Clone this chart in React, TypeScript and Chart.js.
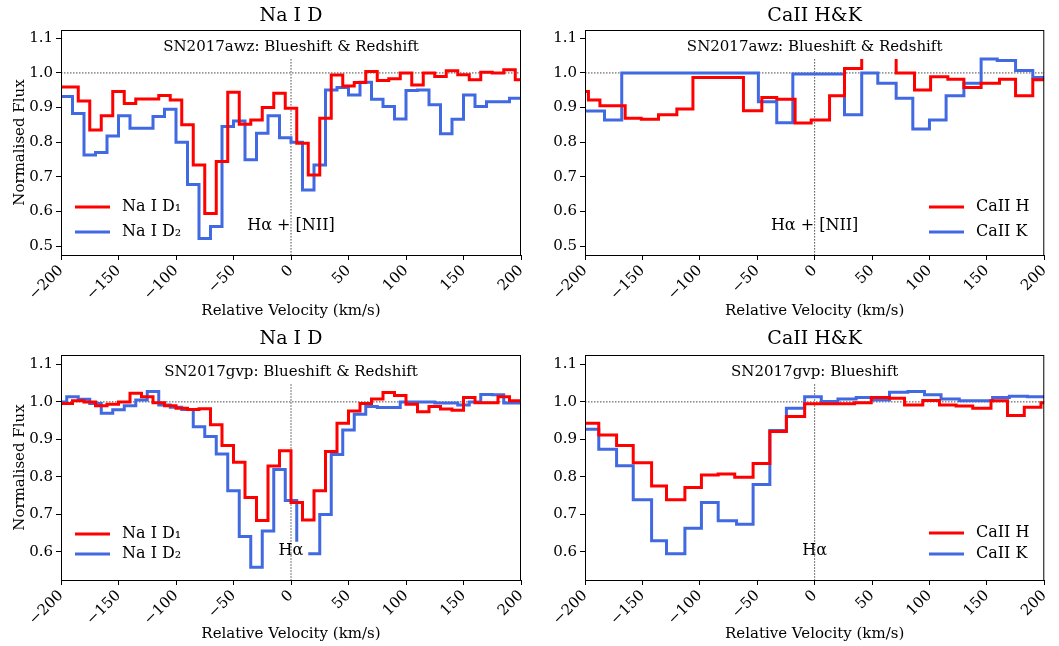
import React, { useEffect, useRef } from "react";
import { Chart, registerables } from "chart.js";
Chart.register(...registerables);

// ---------- data ----------
const xTicks = [-200, -150, -100, -50, 0, 50, 100, 150, 200];
const yTicksTop = [0.5, 0.6, 0.7, 0.8, 0.9, 1.0, 1.1];
const yTicksBottom = [0.6, 0.7, 0.8, 0.9, 1.0, 1.1];

// bin start velocities (km/s), last entry = end of last bin
const gridEven = [-205, -195, -185, -175, -165, -155, -145, -135, -125, -115, -105, -95, -85, -75, -65, -55, -45, -35, -25, -15, -5, 5, 15, 25, 35, 45, 55, 65, 75, 85, 95, 105, 115, 125, 135, 145, 155, 165, 175, 185, 195, 205];
const gridOdd = [-200, -190, -180, -170, -160, -150, -140, -130, -120, -110, -100, -90, -80, -70, -60, -50, -40, -30, -20, -10, 0, 10, 20, 30, 40, 50, 60, 70, 80, 90, 100, 110, 120, 130, 140, 150, 160, 170, 180, 190, 200];

// SN2017awz Na I D
const awzNaD1 = [0.959, 0.959, 0.919, 0.835, 0.876, 0.946, 0.912, 0.925, 0.925, 0.935, 0.922, 0.85, 0.734, 0.594, 0.744, 0.944, 0.852, 0.864, 0.9, 0.941, 0.898, 0.797, 0.705, 0.869, 0.994, 0.962, 0.972, 1.004, 0.978, 0.983, 1.0, 0.965, 1.0, 0.99, 1.006, 0.995, 0.98, 1.002, 1.0, 1.009, 0.98];
const awzNaD2 = [0.932, 0.883, 0.763, 0.77, 0.818, 0.876, 0.84, 0.84, 0.874, 0.895, 0.8, 0.678, 0.522, 0.556, 0.845, 0.861, 0.749, 0.826, 0.876, 0.813, 0.8, 0.662, 0.734, 0.951, 0.958, 0.936, 0.973, 0.924, 0.903, 0.867, 0.949, 0.951, 0.908, 0.824, 0.866, 0.936, 0.903, 0.917, 0.917, 0.927];

// SN2017awz CaII
const awzCaHEdges = [-200, -197, -187, -165, -151, -136, -120, -106, -62, -46, -33, -17, -3, 13, 26, 41, 41, 71, 71, 87, 101, 116, 130, 145, 161, 175, 190, 200];
const awzCaH = [0.946, 0.922, 0.905, 0.869, 0.866, 0.879, 0.896, 0.987, 0.891, 0.929, 0.924, 0.855, 0.864, 0.934, 1.013, 1.04, null, 1.04, 1.0, 0.951, 0.989, 0.982, 0.958, 0.97, 0.982, 0.934, 0.98];
const awzCaKEdges = [-200, -183, -168, -49, -33, -19, 26, 41, 55, 71, 85.5, 100, 114.5, 130, 145, 159, 175, 190, 200];
const awzCaK = [0.89, 0.864, 1.0, 0.917, 0.856, 0.997, 0.879, 1.0, 0.97, 0.927, 0.838, 0.864, 0.934, 0.97, 1.04, 1.036, 1.007, 0.987];

// SN2017gvp Na I D
const gvpNaD1 = [0.996, 1.003, 1.0, 0.99, 0.994, 1.0, 1.023, 1.014, 0.998, 0.99, 0.983, 0.98, 0.982, 0.939, 0.884, 0.839, 0.745, 0.684, 0.829, 0.87, 0.732, 0.685, 0.763, 0.868, 0.943, 0.976, 0.996, 1.008, 1.025, 1.017, 0.994, 0.974, 0.988, 0.981, 0.978, 1.012, 0.998, 0.998, 1.014, 1.003];
const gvpNaD2Edges = [-205, -195, -185, -175, -165, -155, -145, -135, -125, -115, -105, -95, -85, -75, -65, -55, -45, -35, -25, -15, -5, 5, 5, 15, 25, 35, 45, 55, 65, 75, 85, 95, 105, 115, 125, 135, 145, 155, 165, 175, 185, 195, 205];
const gvpNaD2 = [1.0, 1.014, 1.007, 0.996, 0.97, 0.979, 0.99, 1.005, 1.028, 0.992, 0.986, 0.98, 0.934, 0.908, 0.861, 0.763, 0.641, 0.559, 0.656, 0.82, 0.737, 0.627, null, 0.595, 0.7, 0.86, 0.925, 0.967, 0.988, 0.985, 0.985, 1.0, 1.0, 1.0, 0.997, 0.997, 0.992, 1.0, 1.02, 1.019, 0.997, 0.997];

// SN2017gvp CaII
const gvpCaHEdges = [-200, -188, -172.5, -158, -142, -129, -113, -98.6, -84, -69.6, -53.6, -39, -24.6, -8.7, 5.8, 20.3, 34.8, 49.3, 65.2, 78.3, 94.2, 108.7, 123.2, 137.7, 153.6, 168, 182.6, 197.1, 200];
const gvpCaH = [0.943, 0.912, 0.884, 0.838, 0.776, 0.739, 0.772, 0.805, 0.808, 0.799, 0.836, 0.921, 0.961, 0.995, 0.995, 0.995, 0.998, 1.012, 1.01, 0.992, 1.004, 0.992, 0.989, 0.983, 1.003, 0.964, 0.986, 0.998];
const gvpCaKEdges = [-200, -188, -172.5, -158, -142, -129, -113, -98.6, -84, -68, -53.6, -39, -24.6, -8.7, 5.8, 20.3, 36.2, 50.7, 65.2, 81.2, 95.7, 110.1, 126, 140.6, 155, 169.6, 185.5, 200];
const gvpCaK = [0.927, 0.874, 0.83, 0.739, 0.63, 0.595, 0.663, 0.732, 0.683, 0.674, 0.78, 0.924, 0.983, 1.014, 1.001, 1.008, 1.012, 1.005, 1.026, 1.028, 1.019, 1.008, 1.003, 1.003, 1.012, 1.015, 1.014];

const RED = "#ff0000";
const BLUE = "#4169e1";

function steps(edges: number[], vals: (number | null)[]) {
  const pts: { x: number; y: number | null }[] = [];
  for (let i = 0; i < vals.length; i++) pts.push({ x: edges[i], y: vals[i] });
  pts.push({ x: edges[edges.length - 1], y: vals[vals.length - 1] });
  return pts;
}

type Panel = {
  left: number; top: number; w: number; h: number;
  plotL: number; plotT: number; plotR: number; plotB: number;
  yMin: number; yMax: number; yTicks: number[];
  title: string; subtitle: string; note: string; noteY: number;
  labels: string[]; legendX: number; legendY: number[];
  series: { data: { x: number; y: number | null }[]; color: string }[];
  yLabel: boolean; vTop: number;
};

const panels: Panel[] = [
  {
    left: 0, top: 0, w: 540, h: 323, plotL: 61, plotT: 30, plotR: 521, plotB: 255,
    yMin: 0.474, yMax: 1.124, yTicks: yTicksTop, title: "Na I D",
    subtitle: "SN2017awz: Blueshift & Redshift", note: "Hα + [NII]", noteY: 226,
    labels: ["Na I D₁", "Na I D₂"], legendX: 75, legendY: [207, 232],
    series: [{ data: steps(gridEven, awzNaD1), color: RED }, { data: steps(gridOdd, awzNaD2), color: BLUE }],
    yLabel: true, vTop: 1.04,
  },
  {
    left: 530, top: 0, w: 529, h: 323, plotL: 55, plotT: 30, plotR: 515, plotB: 255,
    yMin: 0.474, yMax: 1.124, yTicks: yTicksTop, title: "CaII H&K",
    subtitle: "SN2017awz: Blueshift & Redshift", note: "Hα + [NII]", noteY: 226,
    labels: ["CaII H", "CaII K"], legendX: 399, legendY: [207, 232],
    series: [{ data: steps(awzCaHEdges, awzCaH), color: RED }, { data: steps(awzCaKEdges, awzCaK), color: BLUE }],
    yLabel: false, vTop: 1.04,
  },
  {
    left: 0, top: 323, w: 540, h: 323, plotL: 61, plotT: 32, plotR: 521, plotB: 257,
    yMin: 0.525, yMax: 1.125, yTicks: yTicksBottom, title: "Na I D",
    subtitle: "SN2017gvp: Blueshift & Redshift", note: "Hα", noteY: 228,
    labels: ["Na I D₁", "Na I D₂"], legendX: 75, legendY: [211, 231],
    series: [{ data: steps(gridOdd, gvpNaD1), color: RED }, { data: steps(gvpNaD2Edges, gvpNaD2), color: BLUE }],
    yLabel: true, vTop: 1.047,
  },
  {
    left: 530, top: 323, w: 529, h: 323, plotL: 55, plotT: 32, plotR: 515, plotB: 257,
    yMin: 0.525, yMax: 1.125, yTicks: yTicksBottom, title: "CaII H&K",
    subtitle: "SN2017gvp: Blueshift", note: "Hα", noteY: 228,
    labels: ["CaII H", "CaII K"], legendX: 399, legendY: [210, 231],
    series: [{ data: steps(gvpCaHEdges, gvpCaH), color: RED }, { data: steps(gvpCaKEdges, gvpCaK), color: BLUE }],
    yLabel: false, vTop: 1.047,
  },
];

const SERIF = "'DejaVu Serif', serif";

function PanelChart({ p }: { p: Panel }) {
  const ref = useRef<HTMLCanvasElement>(null);
  useEffect(() => {
    const deco = {
      id: "deco",
      beforeDatasetsDraw(chart: any) {
        const { ctx, chartArea: a, scales } = chart;
        const x0 = scales.x.getPixelForValue(0);
        const y1 = scales.y.getPixelForValue(1.0);
        const yv = scales.y.getPixelForValue(p.vTop);
        ctx.save();
        ctx.strokeStyle = "#333";
        ctx.lineWidth = 0.9;
        ctx.setLineDash([1.5, 1.5]);
        ctx.beginPath();
        ctx.moveTo(a.left, y1); ctx.lineTo(a.right, y1);
        ctx.moveTo(x0, yv); ctx.lineTo(x0, a.bottom);
        ctx.stroke();
        ctx.restore();
      },
      afterDatasetsDraw(chart: any) {
        const { ctx, chartArea: a } = chart;
        ctx.save();
        ctx.strokeStyle = "#000";
        ctx.lineWidth = 1;
        ctx.strokeRect(a.left + 0.5, a.top + 0.5, a.right - a.left - 1, a.bottom - a.top);
        const cx = (a.left + a.right) / 2;
        ctx.fillStyle = "#000";
        ctx.textAlign = "center";
        ctx.textBaseline = "middle";
        ctx.font = `19px ${SERIF}`;
        ctx.fillText(p.title, cx, 16);
        ctx.font = `15px ${SERIF}`;
        ctx.fillText(p.subtitle, cx, a.top + 17);
        ctx.font = `16px ${SERIF}`;
        ctx.fillText(p.note, chart.scales.x.getPixelForValue(0), p.noteY);
        ctx.textAlign = "left";
        p.labels.forEach((lab, i) => {
          const y = p.legendY[i];
          ctx.strokeStyle = p.series[i].color;
          ctx.lineWidth = 3;
          ctx.beginPath();
          ctx.moveTo(p.legendX, y); ctx.lineTo(p.legendX + 35, y);
          ctx.stroke();
          ctx.fillText(lab, p.legendX + 47, y);
        });
        // y-axis title
        if (p.yLabel) {
          ctx.save();
          ctx.translate(20, (a.top + a.bottom) / 2);
          ctx.rotate(-Math.PI / 2);
          ctx.textAlign = "center";
          ctx.font = `15px ${SERIF}`;
          ctx.fillText("Normalised Flux", 0, 0);
          ctx.restore();
        }
        ctx.restore();
      },
    };
    const chart = new Chart(ref.current!, {
      type: "line",
      data: {
        datasets: p.series.map((s) => ({
          data: s.data as any,
          borderColor: s.color,
          borderWidth: 3,
          pointRadius: 0,
          stepped: true,
          spanGaps: false,
          fill: false,
        })),
      },
      options: {
        animation: false,
        responsive: false,
        events: [],
        layout: { padding: { top: p.plotT, right: p.w - p.plotR, left: 0, bottom: 3 } },
        plugins: { legend: { display: false }, tooltip: { enabled: false } },
        scales: {
          x: {
            type: "linear", min: -200, max: 200,
            afterBuildTicks: (s: any) => { s.ticks = xTicks.map((v) => ({ value: v })); },
            afterFit: (s: any) => { s.height = p.h - p.plotB - 3; },
            ticks: {
              autoSkip: false, minRotation: 45, maxRotation: 45, color: "#000",
              font: { family: SERIF, size: 15 }, padding: 2,
              callback: (v: any) => String(v).replace("-", "−"),
            },
            grid: { drawOnChartArea: false, drawTicks: true, tickLength: 5, color: "#000" },
            border: { display: true, color: "#000" },
            title: { display: true, text: "Relative Velocity (km/s)", color: "#000", font: { family: SERIF, size: 15 }, padding: { top: 0, bottom: 0 } },
          },
          y: {
            type: "linear", min: p.yMin, max: p.yMax,
            afterBuildTicks: (s: any) => { s.ticks = p.yTicks.map((v) => ({ value: v })); },
            afterFit: (s: any) => { s.width = p.plotL; },
            ticks: { color: "#000", font: { family: SERIF, size: 15 }, padding: 3, callback: (v: any) => Number(v).toFixed(1) },
            grid: { drawOnChartArea: false, drawTicks: true, tickLength: 5, color: "#000" },
            border: { display: true, color: "#000" },
            title: { display: false },
          },
        },
      },
      plugins: [deco],
    });
    return () => chart.destroy();
  }, [p]);
  return (
    <canvas
      ref={ref}
      width={p.w}
      height={p.h}
      style={{ position: "absolute", left: p.left, top: p.top, width: p.w, height: p.h }}
    />
  );
}

export default function App() {
  return (
    <div style={{ position: "absolute", left: 0, top: 0, width: 1059, height: 646, background: "#fff" }}>
      {panels.map((p, i) => (
        <PanelChart key={i} p={p} />
      ))}
    </div>
  );
}
